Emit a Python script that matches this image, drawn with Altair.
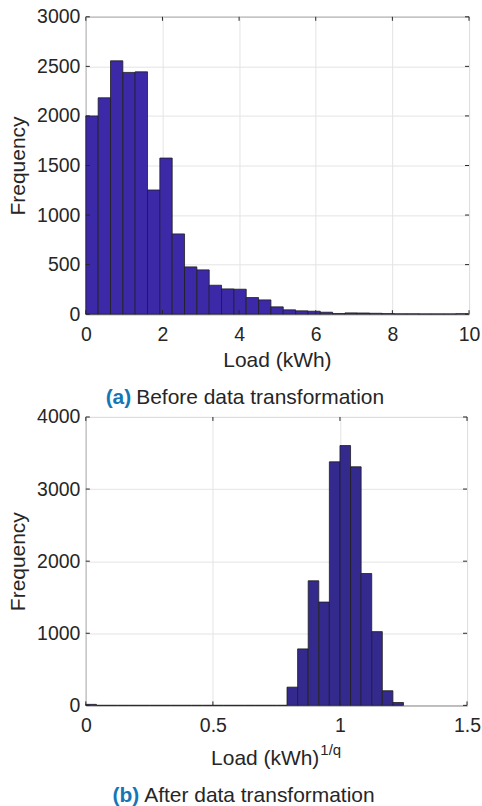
import altair as alt
import numpy as np
import pandas as pd

# ---- histogram counts -------------------------------------------------------
# raw hourly load, 31 equal bins starting at 0
raw_bin_width = 0.322
raw_counts = [2000, 2183, 2556, 2439, 2445, 1253, 1575, 810, 477, 447, 292,
              255, 252, 168, 144, 74, 44, 34, 30, 20, 7, 13, 12, 9, 6, 4, 4,
              3, 3, 3, 5]

# power-transformed load, 30 equal bins over [0, 1.25]
tr_bin_width = 1.25 / 30
tr_counts = [14] + [0] * 18 + [253, 783, 1728, 1433, 3378, 3604, 3309, 1829,
                               1023, 203, 40]

# ---- axes / text -------------------------------------------------------------
raw_xticks = [0, 2, 4, 6, 8, 10]
raw_yticks = [0, 500, 1000, 1500, 2000, 2500, 3000]
tr_xticks = [0, 0.5, 1, 1.5]
tr_yticks = [0, 1000, 2000, 3000, 4000]

y_title = "Frequency"
x_title = "Load (kWh)"
x_title_sup = "1/q"
caption_tags = ["(a)", "(b)"]
caption_texts = ["Before data transformation", "After data transformation"]

FONT = "Liberation Sans"
INK = "#262626"
TAG_BLUE = "#1576b6"
TICK_LEN = 4


def hist_frame(counts, width):
    starts = np.arange(len(counts)) * width
    return pd.DataFrame({"start": starts, "end": starts + width,
                         "count": counts, "base": 0})


def text_layer(label, x, y, size, baseline="alphabetic", align="center",
               color=INK, weight="normal"):
    return alt.Chart(pd.DataFrame({"t": [label]})).mark_text(
        font=FONT, fontSize=size, baseline=baseline, align=align,
        color=color, fontWeight=weight,
    ).encode(text="t:N", x=alt.value(x), y=alt.value(y))


def panel(counts, bin_w, xmax, ymax, xticks, yticks, w, h, fill, title_parts,
          tag, caption, tag_x, cap_y, fmt):
    xs = alt.Scale(domain=[0, xmax], nice=False, zero=False)
    ys = alt.Scale(domain=[0, ymax], nice=False)
    xa = alt.Axis(values=xticks, title=None, labelFlush=False,
                  labelPadding=11.5, format=fmt)
    ya = alt.Axis(values=yticks, title=y_title, labelPadding=6, titlePadding=8,
                  format="d")

    bars = alt.Chart(hist_frame(counts, bin_w)).mark_bar(
        color=fill, stroke="#1e1e1e", strokeWidth=0.8
    ).encode(
        x=alt.X("start:Q", scale=xs, axis=xa),
        x2="end:Q",
        y=alt.Y("count:Q", scale=ys, axis=ya),
        y2="base:Q",
    )

    # inward tick marks on all four sides of the frame
    yt = pd.DataFrame({"count": yticks})
    xt = pd.DataFrame({"start": xticks})
    rule = dict(color=INK, strokeWidth=1)
    y_left = alt.Chart(yt).mark_rule(**rule).encode(
        y=alt.Y("count:Q", scale=ys, axis=ya), x=alt.value(0), x2=alt.value(TICK_LEN))
    y_right = alt.Chart(yt).mark_rule(**rule).encode(
        y=alt.Y("count:Q", scale=ys, axis=ya), x=alt.value(w - TICK_LEN), x2=alt.value(w))
    x_bot = alt.Chart(xt).mark_rule(**rule).encode(
        x=alt.X("start:Q", scale=xs, axis=xa), y=alt.value(h), y2=alt.value(h - TICK_LEN))
    x_top = alt.Chart(xt).mark_rule(**rule).encode(
        x=alt.X("start:Q", scale=xs, axis=xa), y=alt.value(0), y2=alt.value(TICK_LEN))

    layers = [bars, y_left, y_right, x_bot, x_top]
    layers += title_parts
    layers.append(text_layer(tag, tag_x, cap_y, 21, align="right",
                             color=TAG_BLUE, weight="bold"))
    layers.append(text_layer(caption, tag_x + 5, cap_y, 21, align="left"))
    return alt.layer(*layers).properties(width=w, height=h)


W1, H1 = 384, 298
W2, H2 = 382, 289

top = panel(
    raw_counts, raw_bin_width, 10, 3000, raw_xticks, raw_yticks, W1, H1,
    "#3c29a8",
    [text_layer(x_title, W1 / 2, H1 + 53, 21)],
    caption_tags[0], caption_texts[0], 45.5, H1 + 90, "d",
)

bottom = panel(
    tr_counts, tr_bin_width, 1.5, 4000, tr_xticks, tr_yticks, W2, H2,
    "#34298c",
    [text_layer(x_title, 234, H2 + 60, 21, align="right"),
     text_layer(x_title_sup, 235, H2 + 50, 15, align="left")],
    caption_tags[1], caption_texts[1], 53.5, H2 + 97, "",
)

chart = alt.vconcat(top, bottom, spacing=103, bounds="flush").properties(
    padding={"left": 7, "top": 5, "right": 0, "bottom": 0},
    background="white",
).configure_axis(
    labelFont=FONT, titleFont=FONT, labelColor=INK, titleColor=INK,
    labelFontSize=19.5, titleFontSize=21, titleFontWeight="normal",
    domain=False, ticks=False, grid=True, gridColor="#e4e4e4", gridWidth=1,
).configure_view(stroke=INK, strokeWidth=1)

chart.save("out.html", embed_options={"renderer": "svg", "actions": False})
